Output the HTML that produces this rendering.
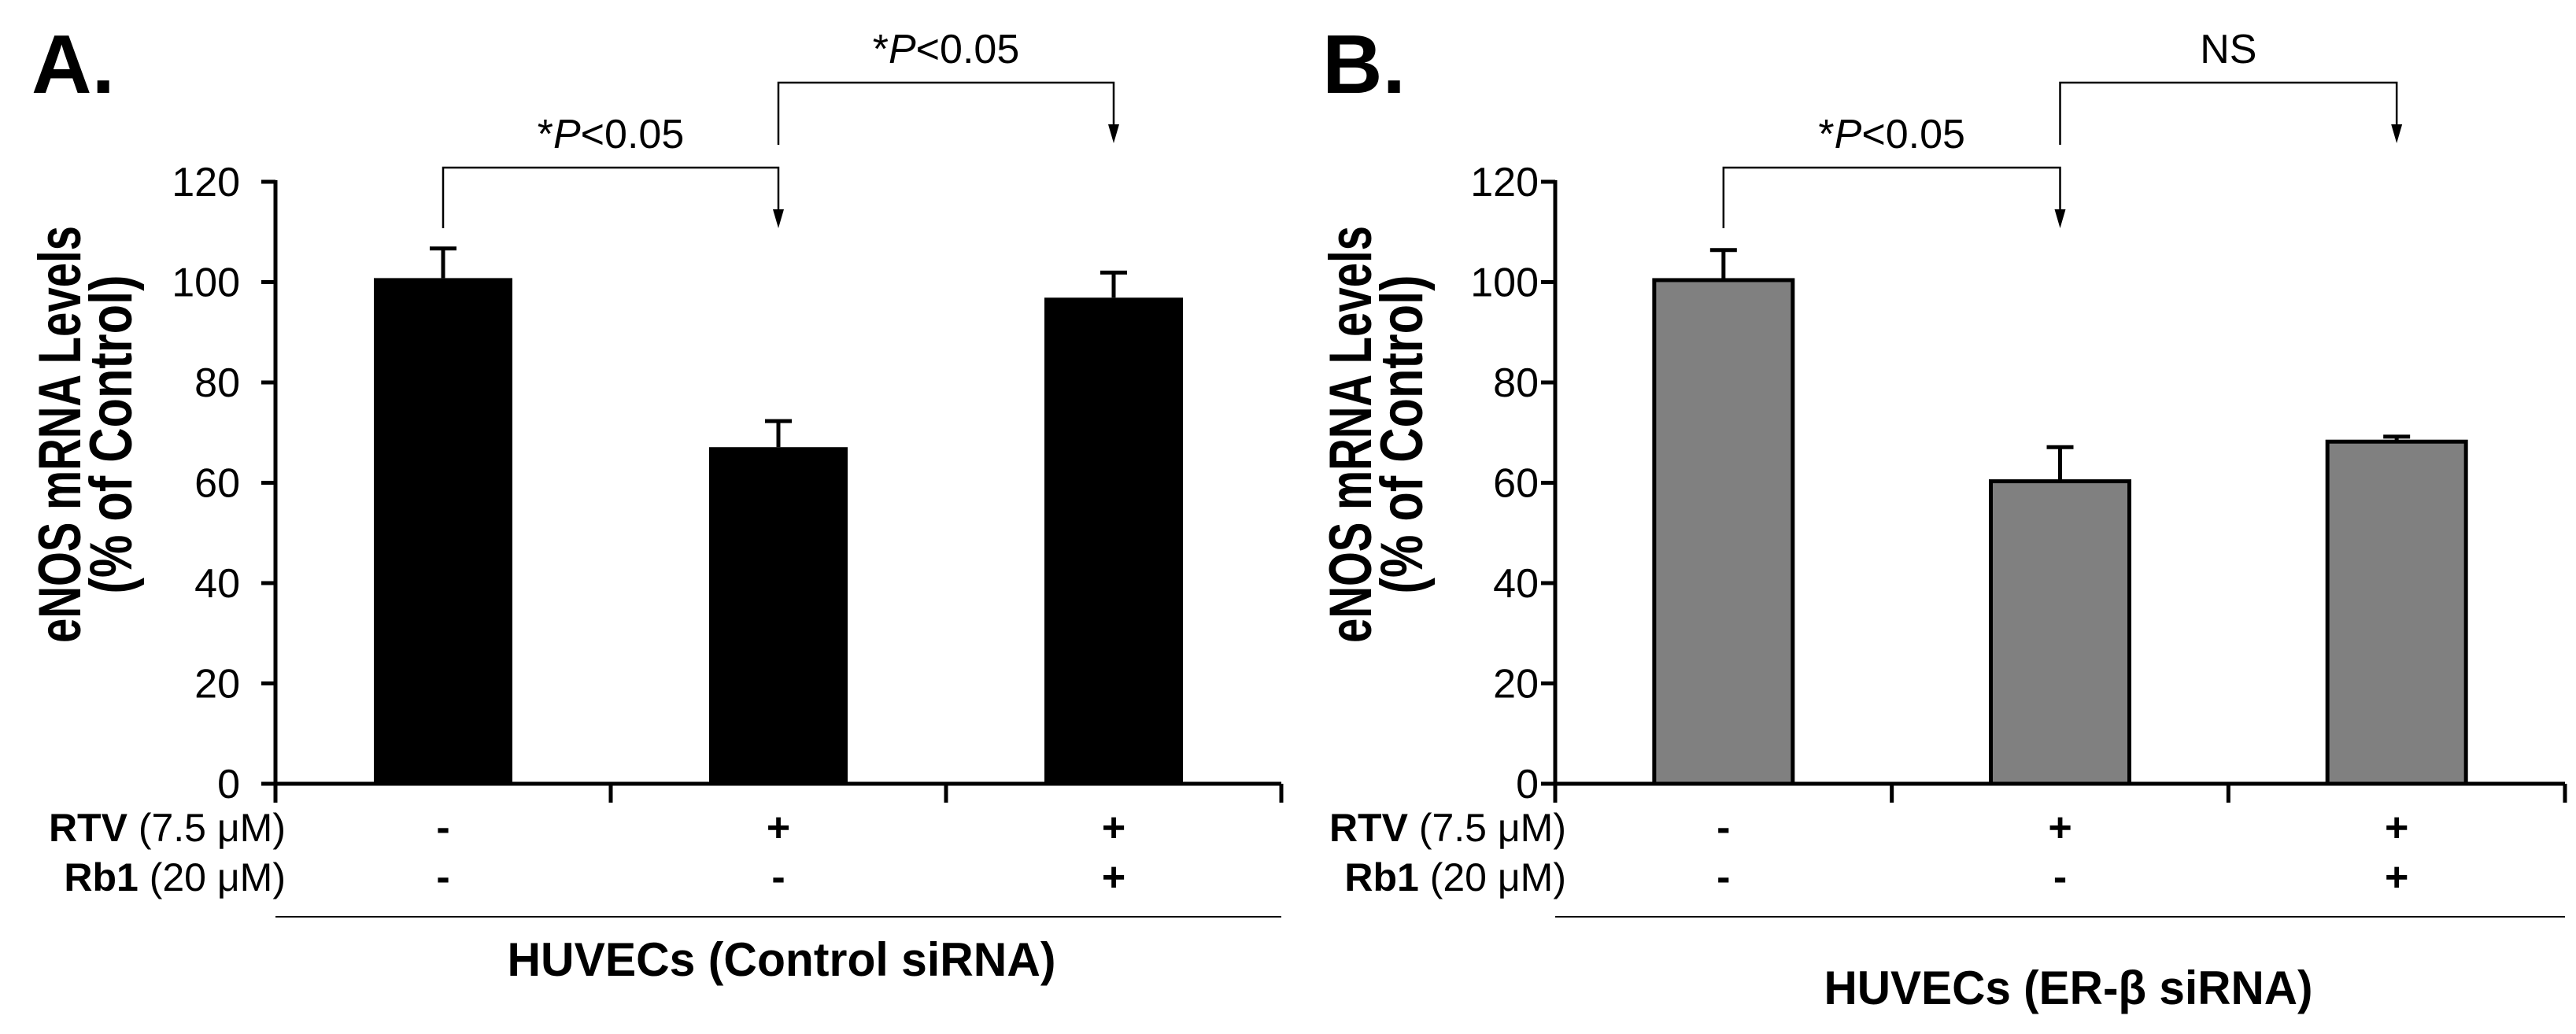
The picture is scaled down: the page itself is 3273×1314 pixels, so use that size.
<!DOCTYPE html>
<html><head><meta charset="utf-8"><style>
html,body{margin:0;padding:0;background:#fff;}
svg{display:block;font-family:"Liberation Sans Narrow","Liberation Sans",sans-serif;}
</style></head><body>
<svg id="chart" width="3273" height="1314" viewBox="0 0 3273 1314" xmlns="http://www.w3.org/2000/svg"></svg>
<script>
const categories = ["Control", "RTV", "RTV+Rb1"];
const rtvRow = ["-", "+", "+"];
const rb1Row = ["-", "-", "+"];
const valuesA = [100.8, 67.1, 96.9];
const errorsA = [5.9, 5.2, 5.0];
const valuesB = [100.4, 60.3, 68.2];
const errorsB = [6.0, 6.8, 1.0];
const yTicks = [0, 20, 40, 60, 80, 100, 120];

const NS = "http://www.w3.org/2000/svg";
const svg = document.getElementById("chart");
function mk(tag, attrs, parent, txt) {
  const e = document.createElementNS(NS, tag);
  for (const k in attrs) e.setAttribute(k, attrs[k]);
  if (txt !== undefined) e.textContent = txt;
  (parent || svg).appendChild(e);
  return e;
}

function panel(cfg) {
  const g = mk("g", {});
  
  
  const y0 = 996, y120 = 231;
  const yScale = v => y0 - (v / 120) * (y0 - y120);
  const catW = (cfg.axisEnd - cfg.axisX) / categories.length;
  const xCenter = i => cfg.axisX + catW * (i + 0.5);
  const barW = 176;

  const L = mk("text", {x: cfg.letterX, y: 118, "font-size": 106, "font-weight": "bold", "font-family": "Liberation Sans, sans-serif"}, g, cfg.letter);
  
  

  for (let i = 0; i < categories.length; i++) {
    const v = cfg.values[i], e = cfg.errors[i];
    const cx = xCenter(i);
    const eb = mk("g", {}, g);
    
    
    mk("line", {x1: cx, x2: cx, y1: yScale(v), y2: yScale(v + e), stroke: "#000", "stroke-width": 5}, eb);
    mk("line", {x1: cx - 17, x2: cx + 17, y1: yScale(v + e), y2: yScale(v + e), stroke: "#000", "stroke-width": 5}, eb);
    const r = mk("rect", {x: cx - barW / 2, y: yScale(v), width: barW, height: y0 - yScale(v), fill: cfg.fill,
      stroke: cfg.stroke ? "#000" : "none", "stroke-width": cfg.stroke ? 5 : 0}, g);
    
    
  }

  const ax = mk("g", {}, g);
  
  
  mk("line", {x1: cfg.axisX, x2: cfg.axisX, y1: y120 - 2, y2: 1020, stroke: "#000", "stroke-width": 5}, ax);
  yTicks.forEach(t => {
    mk("line", {x1: cfg.axisX - 18, x2: cfg.axisX, y1: yScale(t), y2: yScale(t), stroke: "#000", "stroke-width": 5}, ax);
    const tl = mk("text", {x: cfg.tickRight, y: yScale(t) + 18, "font-size": 52, "text-anchor": "end"}, ax, String(t));
    
    
  });
  const xa = mk("g", {}, g);
  
  
  mk("line", {x1: cfg.axisX, x2: cfg.axisEnd, y1: y0, y2: y0, stroke: "#000", "stroke-width": 5}, xa);
  for (let i = 1; i <= categories.length; i++) {
    const tx = cfg.axisX + catW * i;
    mk("line", {x1: tx, x2: tx, y1: y0, y2: 1020, stroke: "#000", "stroke-width": 5}, xa);
  }

  const yt = mk("g", {transform: "rotate(-90)"}, g);
  
  
  mk("text", {x: -552, y: cfg.titleX1 + 26, "font-size": 76, "font-weight": "bold", "text-anchor": "middle", textLength: 530, lengthAdjust: "spacingAndGlyphs"}, yt, "eNOS mRNA Levels");
  mk("text", {x: -552, y: cfg.titleX2 + 26, "font-size": 76, "font-weight": "bold", "text-anchor": "middle", textLength: 405, lengthAdjust: "spacingAndGlyphs"}, yt, "(% of Control)");

  const rows = [["RTV", " (7.5 μM)", rtvRow, 1069], ["Rb1", " (20 μM)", rb1Row, 1132]];
  rows.forEach(([b, rest, arr, yy]) => {
    const t = mk("text", {x: cfg.rowRight, y: yy, "font-size": 50, "text-anchor": "end"}, g);
    
    
    mk("tspan", {"font-weight": "bold"}, t, b);
    mk("tspan", {}, t, rest);
    arr.forEach((s, i) => {
      const st = mk("text", {x: xCenter(i), y: yy, "font-size": 52, "font-weight": "bold", "text-anchor": "middle"}, g, s);
      
      
    });
  });
  const sep = mk("line", {x1: cfg.axisX, x2: cfg.axisEnd, y1: 1165, y2: 1165, stroke: "#000", "stroke-width": 2}, g);
  
  
  const gt = mk("text", {x: cfg.groupCx, y: cfg.groupY, "font-size": 60, "font-weight": "bold", "text-anchor": "middle", textLength: cfg.groupLen, lengthAdjust: "spacingAndGlyphs"}, g, cfg.group);
  
  

  function bracket(x1, x2, top, leftBottom, tip, label, name) {
    const bg = mk("g", {}, g);
    
    
    mk("polyline", {points: `${x1},${leftBottom} ${x1},${top} ${x2},${top} ${x2},${tip - 22}`, fill: "none", stroke: "#000", "stroke-width": 2.5}, bg);
    mk("polygon", {points: `${x2 - 7},${tip - 24} ${x2 + 7},${tip - 24} ${x2},${tip}`, fill: "#000"}, bg);
    const t = mk("text", {x: (x1 + x2) / 2, y: top - 25, "font-size": 52, "text-anchor": "middle"}, bg);
    if (label === "NS") { t.textContent = "NS"; }
    else { mk("tspan", {}, t, "*"); mk("tspan", {"font-style": "italic"}, t, "P"); mk("tspan", {}, t, "<0.05"); }
  }
  bracket(xCenter(0), xCenter(1), 213, 290, 290, "p", "significance-bracket-1");
  bracket(xCenter(1), xCenter(2), 105, 184, 182, cfg.label2, "significance-bracket-2");
}

panel({name: "panel-a", letter: "A.", letterX: 40, axisX: 350, axisEnd: 1628, tickRight: 305,
  values: valuesA, errors: errorsA, fill: "#000", stroke: false, titleX1: 76, titleX2: 141,
  rowRight: 363, group: "HUVECs (Control siRNA)", groupCx: 993, groupY: 1240, groupLen: 697, label2: "p"});
panel({name: "panel-b", letter: "B.", letterX: 1680, axisX: 1976, axisEnd: 3259, tickRight: 1955,
  values: valuesB, errors: errorsB, fill: "#808080", stroke: true, titleX1: 1716, titleX2: 1781,
  rowRight: 1990, group: "HUVECs (ER-β siRNA)", groupCx: 2628, groupY: 1276, groupLen: 621, label2: "NS"});
</script>
</body></html>
